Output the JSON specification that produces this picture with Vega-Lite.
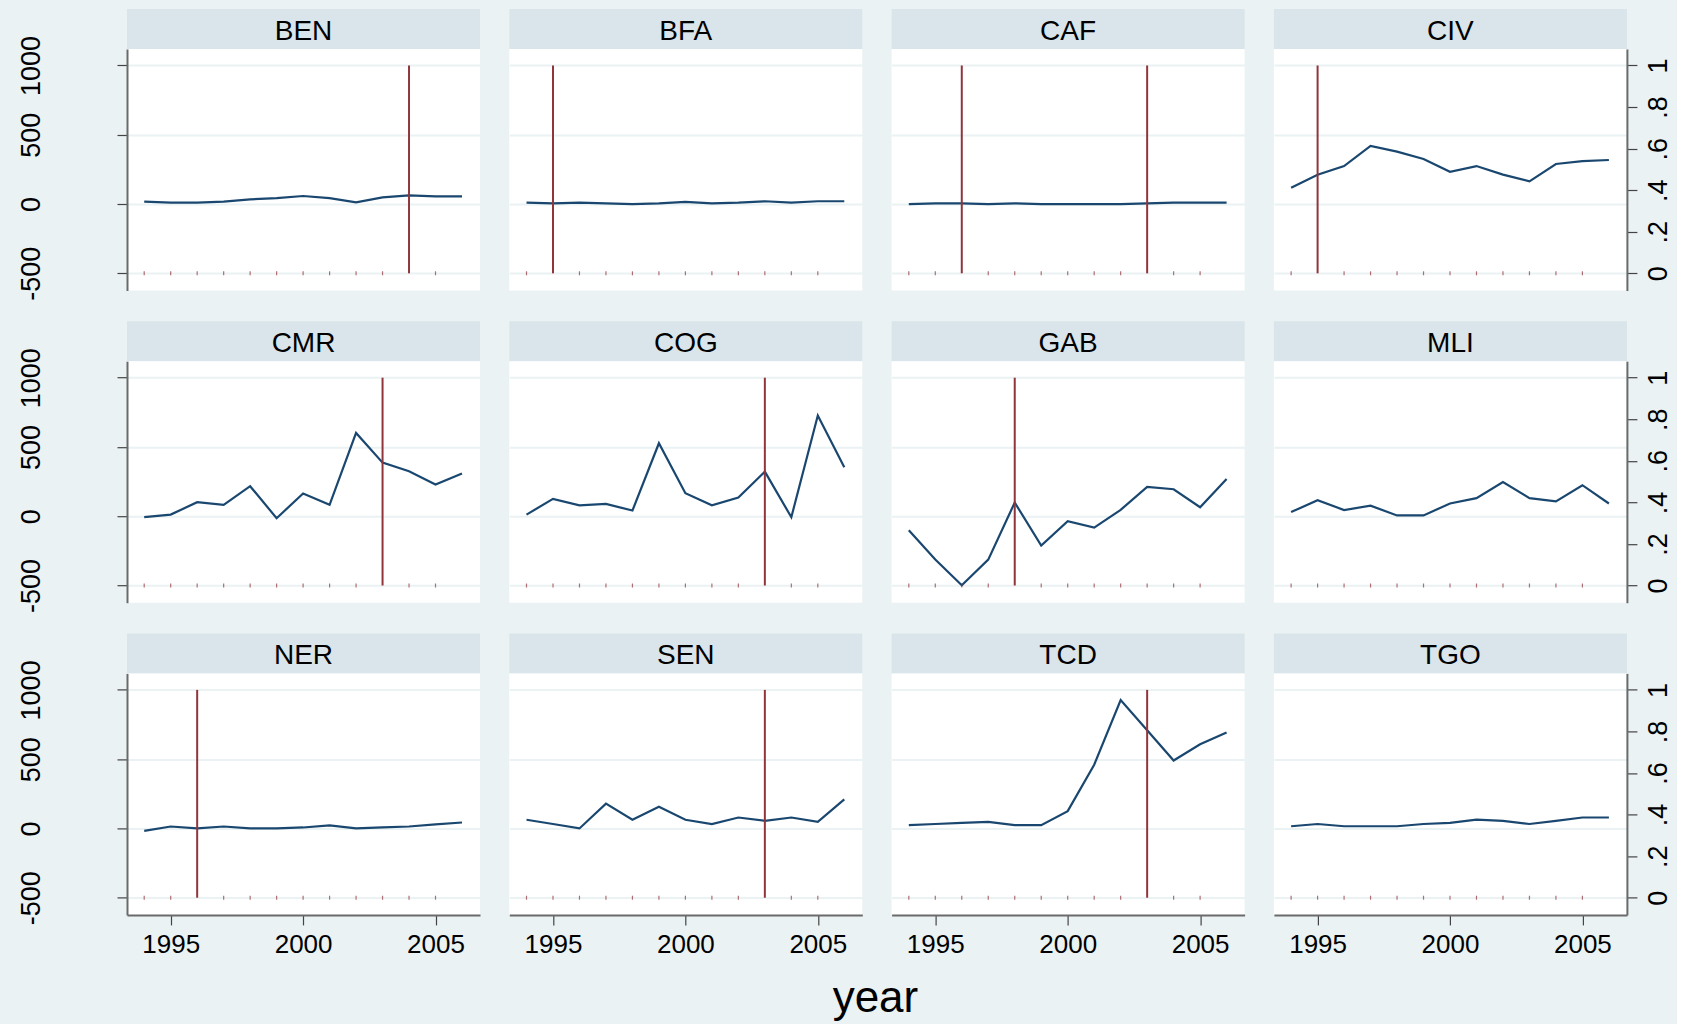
{
"$schema":"https://vega.github.io/schema/vega-lite/v6.json",
"background":"#eaf2f3",
"padding":{"left":16,"top":9,"right":5,"bottom":3},
"title":{"text":"year","orient":"bottom","anchor":"middle","fontSize":44,"fontWeight":"normal","font":"Liberation Sans","color":"#000000","offset":19,"dx":31},
"config":{"view":{"stroke":null},"font":"Liberation Sans",
 "axis":{"labelFont":"Liberation Sans","titleFont":"Liberation Sans","labelColor":"#000000","titleColor":"#000000","gridColor":"#eaf2f3","gridWidth":2,"domainColor":"#6a6a6a","domainWidth":2,"tickColor":"#444444","tickWidth":1.2,"tickSize":10,"labelFontSize":27},
 "text":{"font":"Liberation Sans"}},
"datasets":{"d":[
{"c":"BEN","year":1994,"v":17,"t":0},{"c":"BEN","year":1995,"v":10,"t":0},{"c":"BEN","year":1996,"v":10,"t":0},{"c":"BEN","year":1997,"v":17,"t":0},{"c":"BEN","year":1998,"v":34,"t":0},{"c":"BEN","year":1999,"v":43,"t":0},{"c":"BEN","year":2000,"v":58,"t":0},{"c":"BEN","year":2001,"v":43,"t":0},{"c":"BEN","year":2002,"v":12,"t":0},{"c":"BEN","year":2003,"v":48,"t":0},{"c":"BEN","year":2004,"v":63,"t":1},{"c":"BEN","year":2005,"v":55,"t":0},{"c":"BEN","year":2006,"v":55},
{"c":"BFA","year":1994,"v":10,"t":0},{"c":"BFA","year":1995,"v":5,"t":1},{"c":"BFA","year":1996,"v":10,"t":0},{"c":"BFA","year":1997,"v":5,"t":0},{"c":"BFA","year":1998,"v":0,"t":0},{"c":"BFA","year":1999,"v":5,"t":0},{"c":"BFA","year":2000,"v":15,"t":0},{"c":"BFA","year":2001,"v":5,"t":0},{"c":"BFA","year":2002,"v":10,"t":0},{"c":"BFA","year":2003,"v":20,"t":0},{"c":"BFA","year":2004,"v":10,"t":0},{"c":"BFA","year":2005,"v":20,"t":0},{"c":"BFA","year":2006,"v":20},
{"c":"CAF","year":1994,"v":0,"t":0},{"c":"CAF","year":1995,"v":5,"t":0},{"c":"CAF","year":1996,"v":5,"t":1},{"c":"CAF","year":1997,"v":0,"t":0},{"c":"CAF","year":1998,"v":5,"t":0},{"c":"CAF","year":1999,"v":0,"t":0},{"c":"CAF","year":2000,"v":0,"t":0},{"c":"CAF","year":2001,"v":0,"t":0},{"c":"CAF","year":2002,"v":0,"t":0},{"c":"CAF","year":2003,"v":5,"t":1},{"c":"CAF","year":2004,"v":10,"t":0},{"c":"CAF","year":2005,"v":10,"t":0},{"c":"CAF","year":2006,"v":10},
{"c":"CIV","year":1994,"v":118,"t":0},{"c":"CIV","year":1995,"v":212,"t":1},{"c":"CIV","year":1996,"v":274,"t":0},{"c":"CIV","year":1997,"v":419,"t":0},{"c":"CIV","year":1998,"v":378,"t":0},{"c":"CIV","year":1999,"v":325,"t":0},{"c":"CIV","year":2000,"v":233,"t":0},{"c":"CIV","year":2001,"v":274,"t":0},{"c":"CIV","year":2002,"v":212,"t":0},{"c":"CIV","year":2003,"v":164,"t":0},{"c":"CIV","year":2004,"v":289,"t":0},{"c":"CIV","year":2005,"v":310,"t":0},{"c":"CIV","year":2006,"v":318},
{"c":"CMR","year":1994,"v":-7,"t":0},{"c":"CMR","year":1995,"v":12,"t":0},{"c":"CMR","year":1996,"v":101,"t":0},{"c":"CMR","year":1997,"v":82,"t":0},{"c":"CMR","year":1998,"v":217,"t":0},{"c":"CMR","year":1999,"v":-14,"t":0},{"c":"CMR","year":2000,"v":164,"t":0},{"c":"CMR","year":2001,"v":82,"t":0},{"c":"CMR","year":2002,"v":601,"t":0},{"c":"CMR","year":2003,"v":387,"t":1},{"c":"CMR","year":2004,"v":325,"t":0},{"c":"CMR","year":2005,"v":229,"t":0},{"c":"CMR","year":2006,"v":308},
{"c":"COG","year":1994,"v":12,"t":0},{"c":"COG","year":1995,"v":125,"t":0},{"c":"COG","year":1996,"v":79,"t":0},{"c":"COG","year":1997,"v":89,"t":0},{"c":"COG","year":1998,"v":41,"t":0},{"c":"COG","year":1999,"v":527,"t":0},{"c":"COG","year":2000,"v":166,"t":0},{"c":"COG","year":2001,"v":79,"t":0},{"c":"COG","year":2002,"v":135,"t":0},{"c":"COG","year":2003,"v":322,"t":1},{"c":"COG","year":2004,"v":-7,"t":0},{"c":"COG","year":2005,"v":727,"t":0},{"c":"COG","year":2006,"v":354},
{"c":"GAB","year":1994,"v":-101,"t":0},{"c":"GAB","year":1995,"v":-313,"t":0},{"c":"GAB","year":1996,"v":-498,"t":0},{"c":"GAB","year":1997,"v":-313,"t":0},{"c":"GAB","year":1998,"v":99,"t":1},{"c":"GAB","year":1999,"v":-212,"t":0},{"c":"GAB","year":2000,"v":-36,"t":0},{"c":"GAB","year":2001,"v":-82,"t":0},{"c":"GAB","year":2002,"v":46,"t":0},{"c":"GAB","year":2003,"v":212,"t":0},{"c":"GAB","year":2004,"v":195,"t":0},{"c":"GAB","year":2005,"v":65,"t":0},{"c":"GAB","year":2006,"v":269},
{"c":"MLI","year":1994,"v":30,"t":0},{"c":"MLI","year":1995,"v":115,"t":0},{"c":"MLI","year":1996,"v":45,"t":0},{"c":"MLI","year":1997,"v":76,"t":0},{"c":"MLI","year":1998,"v":6,"t":0},{"c":"MLI","year":1999,"v":6,"t":0},{"c":"MLI","year":2000,"v":92,"t":0},{"c":"MLI","year":2001,"v":131,"t":0},{"c":"MLI","year":2002,"v":247,"t":0},{"c":"MLI","year":2003,"v":131,"t":0},{"c":"MLI","year":2004,"v":107,"t":0},{"c":"MLI","year":2005,"v":224,"t":0},{"c":"MLI","year":2006,"v":92},
{"c":"NER","year":1994,"v":-17,"t":0},{"c":"NER","year":1995,"v":14,"t":0},{"c":"NER","year":1996,"v":0,"t":1},{"c":"NER","year":1997,"v":14,"t":0},{"c":"NER","year":1998,"v":0,"t":0},{"c":"NER","year":1999,"v":0,"t":0},{"c":"NER","year":2000,"v":7,"t":0},{"c":"NER","year":2001,"v":22,"t":0},{"c":"NER","year":2002,"v":0,"t":0},{"c":"NER","year":2003,"v":7,"t":0},{"c":"NER","year":2004,"v":14,"t":0},{"c":"NER","year":2005,"v":29,"t":0},{"c":"NER","year":2006,"v":43},
{"c":"SEN","year":1994,"v":63,"t":0},{"c":"SEN","year":1995,"v":32,"t":0},{"c":"SEN","year":1996,"v":0,"t":0},{"c":"SEN","year":1997,"v":179,"t":0},{"c":"SEN","year":1998,"v":63,"t":0},{"c":"SEN","year":1999,"v":156,"t":0},{"c":"SEN","year":2000,"v":63,"t":0},{"c":"SEN","year":2001,"v":32,"t":0},{"c":"SEN","year":2002,"v":79,"t":0},{"c":"SEN","year":2003,"v":55,"t":1},{"c":"SEN","year":2004,"v":79,"t":0},{"c":"SEN","year":2005,"v":47,"t":0},{"c":"SEN","year":2006,"v":210},
{"c":"TCD","year":1994,"v":24,"t":0},{"c":"TCD","year":1995,"v":32,"t":0},{"c":"TCD","year":1996,"v":40,"t":0},{"c":"TCD","year":1997,"v":47,"t":0},{"c":"TCD","year":1998,"v":24,"t":0},{"c":"TCD","year":1999,"v":24,"t":0},{"c":"TCD","year":2000,"v":125,"t":0},{"c":"TCD","year":2001,"v":460,"t":0},{"c":"TCD","year":2002,"v":926,"t":0},{"c":"TCD","year":2003,"v":708,"t":1},{"c":"TCD","year":2004,"v":490,"t":0},{"c":"TCD","year":2005,"v":607,"t":0},{"c":"TCD","year":2006,"v":692},
{"c":"TGO","year":1994,"v":16,"t":0},{"c":"TGO","year":1995,"v":32,"t":0},{"c":"TGO","year":1996,"v":16,"t":0},{"c":"TGO","year":1997,"v":16,"t":0},{"c":"TGO","year":1998,"v":16,"t":0},{"c":"TGO","year":1999,"v":32,"t":0},{"c":"TGO","year":2000,"v":40,"t":0},{"c":"TGO","year":2001,"v":63,"t":0},{"c":"TGO","year":2002,"v":55,"t":0},{"c":"TGO","year":2003,"v":32,"t":0},{"c":"TGO","year":2004,"v":55,"t":0},{"c":"TGO","year":2005,"v":79,"t":0},{"c":"TGO","year":2006,"v":79}
]},
"spacing":20.2,
"vconcat":[
{"hconcat":[
 {"spacing":0,"bounds":"flush","vconcat":[
  {"width":353,"height":40,"view":{"fill":"#d9e5ea","stroke":null},"data":{"name":"d"},"transform":[{"filter":"datum.c==='BEN'&&datum.year===1994"}],"mark":{"type":"text","fontSize":28,"baseline":"middle","align":"center","dy":3,"color":"#000000"},"encoding":{"text":{"field":"c"}}},
  {"width":353,"height":241.5,"view":{"fill":"#ffffff","stroke":null},"data":{"name":"d"},"transform":[{"filter":"datum.c==='BEN'"}],
   "encoding":{"x":{"field":"year","type":"quantitative","scale":{"domain":[1993.35,2006.68],"nice":false,"zero":false},"axis":null}},
   "layer":[
    {"mark":{"type":"line","color":"#1a476f","strokeWidth":2.2},"encoding":{"y":{"field":"v","type":"quantitative","scale":{"domain":[-624,1119],"nice":false,"zero":false},"axis":{"values":[-500,0,500,1000],"grid":true,"labelExpr":"''+datum.value","labelAngle":270,"labelAlign":"center","labelBaseline":"alphabetic","labelPadding":78,"labelOverlap":false,"title":null}}}},
    {"transform":[{"filter":"datum.t===1"}],"mark":{"type":"rule","color":"#90353b","strokeWidth":2},"encoding":{"y":{"field":"t","type":"quantitative","scale":{"domain":[-0.0827,1.0793],"nice":false,"zero":false},"axis":null},"y2":{"datum":0}}},
    {"transform":[{"filter":"datum.t===0"}],"mark":{"type":"tick","color":"#90353b","orient":"vertical","size":4,"thickness":1.2},"encoding":{"y":{"field":"t","type":"quantitative","scale":{"domain":[-0.0827,1.0793],"nice":false,"zero":false},"axis":null}}}
   ],"resolve":{"scale":{"y":"independent"}}}
 ]},
 {"spacing":0,"bounds":"flush","vconcat":[
  {"width":353,"height":40,"view":{"fill":"#d9e5ea","stroke":null},"data":{"name":"d"},"transform":[{"filter":"datum.c==='BFA'&&datum.year===1994"}],"mark":{"type":"text","fontSize":28,"baseline":"middle","align":"center","dy":3,"color":"#000000"},"encoding":{"text":{"field":"c"}}},
  {"width":353,"height":241.5,"view":{"fill":"#ffffff","stroke":null},"data":{"name":"d"},"transform":[{"filter":"datum.c==='BFA'"}],
   "encoding":{"x":{"field":"year","type":"quantitative","scale":{"domain":[1993.35,2006.68],"nice":false,"zero":false},"axis":null}},
   "layer":[
    {"mark":{"type":"line","color":"#1a476f","strokeWidth":2.2},"encoding":{"y":{"field":"v","type":"quantitative","scale":{"domain":[-624,1119],"nice":false,"zero":false},"axis":{"values":[-500,0,500,1000],"grid":true,"domain":false,"ticks":false,"labels":false,"title":null}}}},
    {"transform":[{"filter":"datum.t===1"}],"mark":{"type":"rule","color":"#90353b","strokeWidth":2},"encoding":{"y":{"field":"t","type":"quantitative","scale":{"domain":[-0.0827,1.0793],"nice":false,"zero":false},"axis":null},"y2":{"datum":0}}},
    {"transform":[{"filter":"datum.t===0"}],"mark":{"type":"tick","color":"#90353b","orient":"vertical","size":4,"thickness":1.2},"encoding":{"y":{"field":"t","type":"quantitative","scale":{"domain":[-0.0827,1.0793],"nice":false,"zero":false},"axis":null}}}
   ],"resolve":{"scale":{"y":"independent"}}}
 ]},
 {"spacing":0,"bounds":"flush","vconcat":[
  {"width":353,"height":40,"view":{"fill":"#d9e5ea","stroke":null},"data":{"name":"d"},"transform":[{"filter":"datum.c==='CAF'&&datum.year===1994"}],"mark":{"type":"text","fontSize":28,"baseline":"middle","align":"center","dy":3,"color":"#000000"},"encoding":{"text":{"field":"c"}}},
  {"width":353,"height":241.5,"view":{"fill":"#ffffff","stroke":null},"data":{"name":"d"},"transform":[{"filter":"datum.c==='CAF'"}],
   "encoding":{"x":{"field":"year","type":"quantitative","scale":{"domain":[1993.35,2006.68],"nice":false,"zero":false},"axis":null}},
   "layer":[
    {"mark":{"type":"line","color":"#1a476f","strokeWidth":2.2},"encoding":{"y":{"field":"v","type":"quantitative","scale":{"domain":[-624,1119],"nice":false,"zero":false},"axis":{"values":[-500,0,500,1000],"grid":true,"domain":false,"ticks":false,"labels":false,"title":null}}}},
    {"transform":[{"filter":"datum.t===1"}],"mark":{"type":"rule","color":"#90353b","strokeWidth":2},"encoding":{"y":{"field":"t","type":"quantitative","scale":{"domain":[-0.0827,1.0793],"nice":false,"zero":false},"axis":null},"y2":{"datum":0}}},
    {"transform":[{"filter":"datum.t===0"}],"mark":{"type":"tick","color":"#90353b","orient":"vertical","size":4,"thickness":1.2},"encoding":{"y":{"field":"t","type":"quantitative","scale":{"domain":[-0.0827,1.0793],"nice":false,"zero":false},"axis":null}}}
   ],"resolve":{"scale":{"y":"independent"}}}
 ]},
 {"spacing":0,"bounds":"flush","vconcat":[
  {"width":353,"height":40,"view":{"fill":"#d9e5ea","stroke":null},"data":{"name":"d"},"transform":[{"filter":"datum.c==='CIV'&&datum.year===1994"}],"mark":{"type":"text","fontSize":28,"baseline":"middle","align":"center","dy":3,"color":"#000000"},"encoding":{"text":{"field":"c"}}},
  {"width":353,"height":241.5,"view":{"fill":"#ffffff","stroke":null},"data":{"name":"d"},"transform":[{"filter":"datum.c==='CIV'"}],
   "encoding":{"x":{"field":"year","type":"quantitative","scale":{"domain":[1993.35,2006.68],"nice":false,"zero":false},"axis":null}},
   "layer":[
    {"mark":{"type":"line","color":"#1a476f","strokeWidth":2.2},"encoding":{"y":{"field":"v","type":"quantitative","scale":{"domain":[-624,1119],"nice":false,"zero":false},"axis":{"values":[-500,0,500,1000],"grid":true,"domain":false,"ticks":false,"labels":false,"title":null}}}},
    {"transform":[{"filter":"datum.t===1"}],"mark":{"type":"rule","color":"#90353b","strokeWidth":2},"encoding":{"y":{"field":"t","type":"quantitative","scale":{"domain":[-0.0827,1.0793],"nice":false,"zero":false},"axis":null},"y2":{"datum":0}}},
    {"transform":[{"filter":"datum.t===0"}],"mark":{"type":"tick","color":"#90353b","orient":"vertical","size":4,"thickness":1.2},"encoding":{"y":{"field":"t","type":"quantitative","scale":{"domain":[-0.0827,1.0793],"nice":false,"zero":false},"axis":{"orient":"right","values":[0,0.2,0.4,0.6,0.8,1],"grid":false,"labelExpr":"datum.value==0?'0':datum.value==1?'1':'.'+round(datum.value*10)","labelAngle":270,"labelAlign":"center","labelBaseline":"alphabetic","labelPadding":30,"labelOverlap":false,"title":null}}}}
   ],"resolve":{"scale":{"y":"independent"}}}
 ]}
],"spacing":29.3},
{"hconcat":[
 {"spacing":0,"bounds":"flush","vconcat":[
  {"width":353,"height":40,"view":{"fill":"#d9e5ea","stroke":null},"data":{"name":"d"},"transform":[{"filter":"datum.c==='CMR'&&datum.year===1994"}],"mark":{"type":"text","fontSize":28,"baseline":"middle","align":"center","dy":3,"color":"#000000"},"encoding":{"text":{"field":"c"}}},
  {"width":353,"height":241.5,"view":{"fill":"#ffffff","stroke":null},"data":{"name":"d"},"transform":[{"filter":"datum.c==='CMR'"}],
   "encoding":{"x":{"field":"year","type":"quantitative","scale":{"domain":[1993.35,2006.68],"nice":false,"zero":false},"axis":null}},
   "layer":[
    {"mark":{"type":"line","color":"#1a476f","strokeWidth":2.2},"encoding":{"y":{"field":"v","type":"quantitative","scale":{"domain":[-624,1119],"nice":false,"zero":false},"axis":{"values":[-500,0,500,1000],"grid":true,"labelExpr":"''+datum.value","labelAngle":270,"labelAlign":"center","labelBaseline":"alphabetic","labelPadding":78,"labelOverlap":false,"title":null}}}},
    {"transform":[{"filter":"datum.t===1"}],"mark":{"type":"rule","color":"#90353b","strokeWidth":2},"encoding":{"y":{"field":"t","type":"quantitative","scale":{"domain":[-0.0827,1.0793],"nice":false,"zero":false},"axis":null},"y2":{"datum":0}}},
    {"transform":[{"filter":"datum.t===0"}],"mark":{"type":"tick","color":"#90353b","orient":"vertical","size":4,"thickness":1.2},"encoding":{"y":{"field":"t","type":"quantitative","scale":{"domain":[-0.0827,1.0793],"nice":false,"zero":false},"axis":null}}}
   ],"resolve":{"scale":{"y":"independent"}}}
 ]},
 {"spacing":0,"bounds":"flush","vconcat":[
  {"width":353,"height":40,"view":{"fill":"#d9e5ea","stroke":null},"data":{"name":"d"},"transform":[{"filter":"datum.c==='COG'&&datum.year===1994"}],"mark":{"type":"text","fontSize":28,"baseline":"middle","align":"center","dy":3,"color":"#000000"},"encoding":{"text":{"field":"c"}}},
  {"width":353,"height":241.5,"view":{"fill":"#ffffff","stroke":null},"data":{"name":"d"},"transform":[{"filter":"datum.c==='COG'"}],
   "encoding":{"x":{"field":"year","type":"quantitative","scale":{"domain":[1993.35,2006.68],"nice":false,"zero":false},"axis":null}},
   "layer":[
    {"mark":{"type":"line","color":"#1a476f","strokeWidth":2.2},"encoding":{"y":{"field":"v","type":"quantitative","scale":{"domain":[-624,1119],"nice":false,"zero":false},"axis":{"values":[-500,0,500,1000],"grid":true,"domain":false,"ticks":false,"labels":false,"title":null}}}},
    {"transform":[{"filter":"datum.t===1"}],"mark":{"type":"rule","color":"#90353b","strokeWidth":2},"encoding":{"y":{"field":"t","type":"quantitative","scale":{"domain":[-0.0827,1.0793],"nice":false,"zero":false},"axis":null},"y2":{"datum":0}}},
    {"transform":[{"filter":"datum.t===0"}],"mark":{"type":"tick","color":"#90353b","orient":"vertical","size":4,"thickness":1.2},"encoding":{"y":{"field":"t","type":"quantitative","scale":{"domain":[-0.0827,1.0793],"nice":false,"zero":false},"axis":null}}}
   ],"resolve":{"scale":{"y":"independent"}}}
 ]},
 {"spacing":0,"bounds":"flush","vconcat":[
  {"width":353,"height":40,"view":{"fill":"#d9e5ea","stroke":null},"data":{"name":"d"},"transform":[{"filter":"datum.c==='GAB'&&datum.year===1994"}],"mark":{"type":"text","fontSize":28,"baseline":"middle","align":"center","dy":3,"color":"#000000"},"encoding":{"text":{"field":"c"}}},
  {"width":353,"height":241.5,"view":{"fill":"#ffffff","stroke":null},"data":{"name":"d"},"transform":[{"filter":"datum.c==='GAB'"}],
   "encoding":{"x":{"field":"year","type":"quantitative","scale":{"domain":[1993.35,2006.68],"nice":false,"zero":false},"axis":null}},
   "layer":[
    {"mark":{"type":"line","color":"#1a476f","strokeWidth":2.2},"encoding":{"y":{"field":"v","type":"quantitative","scale":{"domain":[-624,1119],"nice":false,"zero":false},"axis":{"values":[-500,0,500,1000],"grid":true,"domain":false,"ticks":false,"labels":false,"title":null}}}},
    {"transform":[{"filter":"datum.t===1"}],"mark":{"type":"rule","color":"#90353b","strokeWidth":2},"encoding":{"y":{"field":"t","type":"quantitative","scale":{"domain":[-0.0827,1.0793],"nice":false,"zero":false},"axis":null},"y2":{"datum":0}}},
    {"transform":[{"filter":"datum.t===0"}],"mark":{"type":"tick","color":"#90353b","orient":"vertical","size":4,"thickness":1.2},"encoding":{"y":{"field":"t","type":"quantitative","scale":{"domain":[-0.0827,1.0793],"nice":false,"zero":false},"axis":null}}}
   ],"resolve":{"scale":{"y":"independent"}}}
 ]},
 {"spacing":0,"bounds":"flush","vconcat":[
  {"width":353,"height":40,"view":{"fill":"#d9e5ea","stroke":null},"data":{"name":"d"},"transform":[{"filter":"datum.c==='MLI'&&datum.year===1994"}],"mark":{"type":"text","fontSize":28,"baseline":"middle","align":"center","dy":3,"color":"#000000"},"encoding":{"text":{"field":"c"}}},
  {"width":353,"height":241.5,"view":{"fill":"#ffffff","stroke":null},"data":{"name":"d"},"transform":[{"filter":"datum.c==='MLI'"}],
   "encoding":{"x":{"field":"year","type":"quantitative","scale":{"domain":[1993.35,2006.68],"nice":false,"zero":false},"axis":null}},
   "layer":[
    {"mark":{"type":"line","color":"#1a476f","strokeWidth":2.2},"encoding":{"y":{"field":"v","type":"quantitative","scale":{"domain":[-624,1119],"nice":false,"zero":false},"axis":{"values":[-500,0,500,1000],"grid":true,"domain":false,"ticks":false,"labels":false,"title":null}}}},
    {"transform":[{"filter":"datum.t===1"}],"mark":{"type":"rule","color":"#90353b","strokeWidth":2},"encoding":{"y":{"field":"t","type":"quantitative","scale":{"domain":[-0.0827,1.0793],"nice":false,"zero":false},"axis":null},"y2":{"datum":0}}},
    {"transform":[{"filter":"datum.t===0"}],"mark":{"type":"tick","color":"#90353b","orient":"vertical","size":4,"thickness":1.2},"encoding":{"y":{"field":"t","type":"quantitative","scale":{"domain":[-0.0827,1.0793],"nice":false,"zero":false},"axis":{"orient":"right","values":[0,0.2,0.4,0.6,0.8,1],"grid":false,"labelExpr":"datum.value==0?'0':datum.value==1?'1':'.'+round(datum.value*10)","labelAngle":270,"labelAlign":"center","labelBaseline":"alphabetic","labelPadding":30,"labelOverlap":false,"title":null}}}}
   ],"resolve":{"scale":{"y":"independent"}}}
 ]}
],"spacing":29.3},
{"hconcat":[
 {"spacing":0,"bounds":"flush","vconcat":[
  {"width":353,"height":40,"view":{"fill":"#d9e5ea","stroke":null},"data":{"name":"d"},"transform":[{"filter":"datum.c==='NER'&&datum.year===1994"}],"mark":{"type":"text","fontSize":28,"baseline":"middle","align":"center","dy":3,"color":"#000000"},"encoding":{"text":{"field":"c"}}},
  {"width":353,"height":241.5,"view":{"fill":"#ffffff","stroke":null},"data":{"name":"d"},"transform":[{"filter":"datum.c==='NER'"}],
   "encoding":{"x":{"field":"year","type":"quantitative","scale":{"domain":[1993.35,2006.68],"nice":false,"zero":false},"axis":{"values":[1995,2000,2005],"format":"d","grid":false,"labelBaseline":"top","labelPadding":7,"labelFontSize":26,"labelFlush":false,"title":null}}},
   "layer":[
    {"mark":{"type":"line","color":"#1a476f","strokeWidth":2.2},"encoding":{"y":{"field":"v","type":"quantitative","scale":{"domain":[-624,1119],"nice":false,"zero":false},"axis":{"values":[-500,0,500,1000],"grid":true,"labelExpr":"''+datum.value","labelAngle":270,"labelAlign":"center","labelBaseline":"alphabetic","labelPadding":78,"labelOverlap":false,"title":null}}}},
    {"transform":[{"filter":"datum.t===1"}],"mark":{"type":"rule","color":"#90353b","strokeWidth":2},"encoding":{"y":{"field":"t","type":"quantitative","scale":{"domain":[-0.0827,1.0793],"nice":false,"zero":false},"axis":null},"y2":{"datum":0}}},
    {"transform":[{"filter":"datum.t===0"}],"mark":{"type":"tick","color":"#90353b","orient":"vertical","size":4,"thickness":1.2},"encoding":{"y":{"field":"t","type":"quantitative","scale":{"domain":[-0.0827,1.0793],"nice":false,"zero":false},"axis":null}}}
   ],"resolve":{"scale":{"y":"independent"}}}
 ]},
 {"spacing":0,"bounds":"flush","vconcat":[
  {"width":353,"height":40,"view":{"fill":"#d9e5ea","stroke":null},"data":{"name":"d"},"transform":[{"filter":"datum.c==='SEN'&&datum.year===1994"}],"mark":{"type":"text","fontSize":28,"baseline":"middle","align":"center","dy":3,"color":"#000000"},"encoding":{"text":{"field":"c"}}},
  {"width":353,"height":241.5,"view":{"fill":"#ffffff","stroke":null},"data":{"name":"d"},"transform":[{"filter":"datum.c==='SEN'"}],
   "encoding":{"x":{"field":"year","type":"quantitative","scale":{"domain":[1993.35,2006.68],"nice":false,"zero":false},"axis":{"values":[1995,2000,2005],"format":"d","grid":false,"labelBaseline":"top","labelPadding":7,"labelFontSize":26,"labelFlush":false,"title":null}}},
   "layer":[
    {"mark":{"type":"line","color":"#1a476f","strokeWidth":2.2},"encoding":{"y":{"field":"v","type":"quantitative","scale":{"domain":[-624,1119],"nice":false,"zero":false},"axis":{"values":[-500,0,500,1000],"grid":true,"domain":false,"ticks":false,"labels":false,"title":null}}}},
    {"transform":[{"filter":"datum.t===1"}],"mark":{"type":"rule","color":"#90353b","strokeWidth":2},"encoding":{"y":{"field":"t","type":"quantitative","scale":{"domain":[-0.0827,1.0793],"nice":false,"zero":false},"axis":null},"y2":{"datum":0}}},
    {"transform":[{"filter":"datum.t===0"}],"mark":{"type":"tick","color":"#90353b","orient":"vertical","size":4,"thickness":1.2},"encoding":{"y":{"field":"t","type":"quantitative","scale":{"domain":[-0.0827,1.0793],"nice":false,"zero":false},"axis":null}}}
   ],"resolve":{"scale":{"y":"independent"}}}
 ]},
 {"spacing":0,"bounds":"flush","vconcat":[
  {"width":353,"height":40,"view":{"fill":"#d9e5ea","stroke":null},"data":{"name":"d"},"transform":[{"filter":"datum.c==='TCD'&&datum.year===1994"}],"mark":{"type":"text","fontSize":28,"baseline":"middle","align":"center","dy":3,"color":"#000000"},"encoding":{"text":{"field":"c"}}},
  {"width":353,"height":241.5,"view":{"fill":"#ffffff","stroke":null},"data":{"name":"d"},"transform":[{"filter":"datum.c==='TCD'"}],
   "encoding":{"x":{"field":"year","type":"quantitative","scale":{"domain":[1993.35,2006.68],"nice":false,"zero":false},"axis":{"values":[1995,2000,2005],"format":"d","grid":false,"labelBaseline":"top","labelPadding":7,"labelFontSize":26,"labelFlush":false,"title":null}}},
   "layer":[
    {"mark":{"type":"line","color":"#1a476f","strokeWidth":2.2},"encoding":{"y":{"field":"v","type":"quantitative","scale":{"domain":[-624,1119],"nice":false,"zero":false},"axis":{"values":[-500,0,500,1000],"grid":true,"domain":false,"ticks":false,"labels":false,"title":null}}}},
    {"transform":[{"filter":"datum.t===1"}],"mark":{"type":"rule","color":"#90353b","strokeWidth":2},"encoding":{"y":{"field":"t","type":"quantitative","scale":{"domain":[-0.0827,1.0793],"nice":false,"zero":false},"axis":null},"y2":{"datum":0}}},
    {"transform":[{"filter":"datum.t===0"}],"mark":{"type":"tick","color":"#90353b","orient":"vertical","size":4,"thickness":1.2},"encoding":{"y":{"field":"t","type":"quantitative","scale":{"domain":[-0.0827,1.0793],"nice":false,"zero":false},"axis":null}}}
   ],"resolve":{"scale":{"y":"independent"}}}
 ]},
 {"spacing":0,"bounds":"flush","vconcat":[
  {"width":353,"height":40,"view":{"fill":"#d9e5ea","stroke":null},"data":{"name":"d"},"transform":[{"filter":"datum.c==='TGO'&&datum.year===1994"}],"mark":{"type":"text","fontSize":28,"baseline":"middle","align":"center","dy":3,"color":"#000000"},"encoding":{"text":{"field":"c"}}},
  {"width":353,"height":241.5,"view":{"fill":"#ffffff","stroke":null},"data":{"name":"d"},"transform":[{"filter":"datum.c==='TGO'"}],
   "encoding":{"x":{"field":"year","type":"quantitative","scale":{"domain":[1993.35,2006.68],"nice":false,"zero":false},"axis":{"values":[1995,2000,2005],"format":"d","grid":false,"labelBaseline":"top","labelPadding":7,"labelFontSize":26,"labelFlush":false,"title":null}}},
   "layer":[
    {"mark":{"type":"line","color":"#1a476f","strokeWidth":2.2},"encoding":{"y":{"field":"v","type":"quantitative","scale":{"domain":[-624,1119],"nice":false,"zero":false},"axis":{"values":[-500,0,500,1000],"grid":true,"domain":false,"ticks":false,"labels":false,"title":null}}}},
    {"transform":[{"filter":"datum.t===1"}],"mark":{"type":"rule","color":"#90353b","strokeWidth":2},"encoding":{"y":{"field":"t","type":"quantitative","scale":{"domain":[-0.0827,1.0793],"nice":false,"zero":false},"axis":null},"y2":{"datum":0}}},
    {"transform":[{"filter":"datum.t===0"}],"mark":{"type":"tick","color":"#90353b","orient":"vertical","size":4,"thickness":1.2},"encoding":{"y":{"field":"t","type":"quantitative","scale":{"domain":[-0.0827,1.0793],"nice":false,"zero":false},"axis":{"orient":"right","values":[0,0.2,0.4,0.6,0.8,1],"grid":false,"labelExpr":"datum.value==0?'0':datum.value==1?'1':'.'+round(datum.value*10)","labelAngle":270,"labelAlign":"center","labelBaseline":"alphabetic","labelPadding":30,"labelOverlap":false,"title":null}}}}
   ],"resolve":{"scale":{"y":"independent"}}}
 ]}
],"spacing":29.3}
]
}
